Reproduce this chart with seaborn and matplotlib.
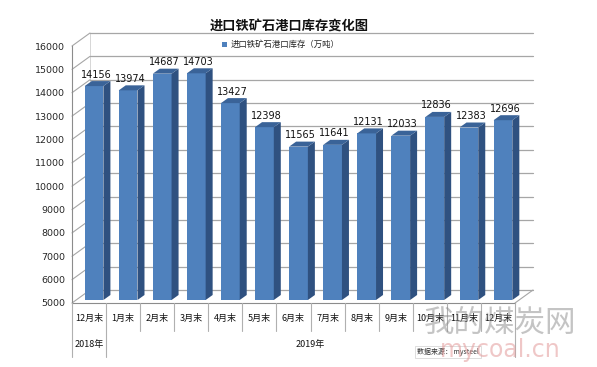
import matplotlib
matplotlib.use('Agg')
import matplotlib.pyplot as plt
import seaborn as sns
import pandas as pd
from matplotlib.patches import Polygon, Rectangle
from matplotlib.lines import Line2D
from matplotlib.transforms import Affine2D, IdentityTransform

# ---------------- data ----------------
keys = ['2018-12', '2019-01', '2019-02', '2019-03', '2019-04', '2019-05', '2019-06',
        '2019-07', '2019-08', '2019-09', '2019-10', '2019-11', '2019-12']
month_labels = ['12月末', '1月末', '2月末', '3月末', '4月末', '5月末', '6月末',
                '7月末', '8月末', '9月末', '10月末', '11月末', '12月末']
values = [14156, 13974, 14687, 14703, 13427, 12398, 11565,
          11641, 12131, 12033, 12836, 12383, 12696]
year_labels = ['2018年', '2019年']
year_spans = [(0, 1), (1, 13)]
y_ticks = list(range(5000, 16001, 1000))
title = '进口铁矿石港口库存变化图'
series_name = '进口铁矿石港口库存（万吨）'

# ---------------- style ----------------
W, H = 597, 367
sns.set_style('white')
plt.rcParams['font.family'] = ['Noto Sans CJK SC', 'DejaVu Sans']
fig = plt.figure(figsize=(W / 100, H / 100), dpi=100)
fig.patch.set_facecolor('white')

X0, X1 = 72, 515      # front plane, pixels from left
YB, YT = 303, 46      # 5000 and 16000, pixels from top
DX, DY = 18, 13       # back-wall offset (pixels)
BDX, BDY = 5, 3       # bar offset into depth
SDX, SDY = 7, 5       # bar depth
BASE = y_ticks[0]

ax = fig.add_axes([X0 / W, 1 - YB / H, (X1 - X0) / W, (YB - YT) / H])
df = pd.DataFrame({'key': keys, 'value': values})
sns.barplot(data=df, x='key', y='value', order=keys, color='#4F81BD',
            saturation=1, width=0.55, ax=ax, zorder=3)
ax.set_xlim(-0.5, len(keys) - 0.5)
ax.set_ylim(BASE, y_ticks[-1])
ax.set_facecolor('none')
for s in ['top', 'right']:
    ax.spines[s].set_visible(False)
ax.spines['left'].set_color('#8C8C8C')
ax.spines['bottom'].set_color('#8C8C8C')
ax.spines['left'].set_linewidth(0.8)
ax.spines['bottom'].set_linewidth(0.8)
ax.set_yticks(y_ticks)
ax.set_yticklabels([str(v) for v in y_ticks], fontsize=6.8, family='DejaVu Sans')
ax.tick_params(axis='y', length=3, color='#8C8C8C', pad=2)
ax.set_xticks([])
ax.set_xlabel('')
ax.set_ylabel('')

ident = IdentityTransform()
py = lambda y: H - y  # top-based pixel to display


def add_line(xs, ys, **kw):
    ln = Line2D(xs, ys, transform=ident, clip_on=False, **kw)
    ax.add_line(ln)
    return ln


# back wall gridlines + left wall diagonals
x0d = ax.transData.transform((-0.5, 0))[0]
x1d = ax.transData.transform((len(keys) - 0.5, 0))[0]
for v in y_ticks:
    yd = ax.transData.transform((0, v))[1]
    add_line([x0d + DX, x1d + DX], [yd + DY, yd + DY], color='#A6A6A6', lw=0.9, zorder=0.5)
    add_line([x0d, x0d + DX], [yd, yd + DY], color='#A6A6A6', lw=0.8, zorder=0.5)
yb = ax.transData.transform((0, BASE))[1]
yt = ax.transData.transform((0, y_ticks[-1]))[1]
add_line([x1d, x1d + DX], [yb, yb + DY], color='#A6A6A6', lw=0.8, zorder=0.5)
add_line([x0d + DX, x0d + DX], [yb + DY, yt + DY], color='#D0D0D0', lw=0.6, zorder=0.4)

# 3D bars
shift = Affine2D().translate(BDX, BDY)
for p, v in zip(list(ax.patches), values):
    p.set_y(BASE)
    p.set_height(p.get_height() - BASE)
    p.set_transform(ax.transData + shift)
    p.set_edgecolor('none')
    p.set_clip_on(False)
    x = p.get_x()
    w = p.get_width()
    (xl, ybot) = ax.transData.transform((x, BASE))
    (xr, ytop) = ax.transData.transform((x + w, v))
    xl += BDX; xr += BDX; ybot += BDY; ytop += BDY
    side = Polygon([(xr, ybot), (xr + SDX, ybot + SDY), (xr + SDX, ytop + SDY), (xr, ytop)],
                   closed=True, facecolor='#2F5180', edgecolor='none', transform=ident,
                   zorder=4, clip_on=False)
    top = Polygon([(xl, ytop), (xr, ytop), (xr + SDX, ytop + SDY), (xl + SDX, ytop + SDY)],
                  closed=True, facecolor='#3A6398', edgecolor='none', transform=ident,
                  zorder=4, clip_on=False)
    ax.add_patch(side)
    ax.add_patch(top)
    fig.text((xl + xr) / 2 + 2, ytop + SDY + 1.5, f'{v}', transform=ident, ha='center',
             va='bottom', fontsize=7, family='DejaVu Sans', color='#111111', zorder=6)

# category table below axis
step = (x1d - x0d) / len(keys)
for i, lab in enumerate(month_labels):
    cx = x0d + (i + 0.5) * step
    fig.text(cx, py(318), lab, transform=ident, ha='center', va='center', fontsize=6.5,
             color='#111111')
for i in range(len(keys) + 1):
    xb = x0d + i * step
    bottom = 357 if i in (0, 1, len(keys)) else 331
    fig.add_artist(Line2D([xb, xb], [py(303), py(bottom)], color='#B0B0B0', lw=0.8,
                          transform=ident))
for lab, (a, b) in zip(year_labels, year_spans):
    cx = x0d + (a + b) / 2 * step
    fig.text(cx, py(345), lab, transform=ident, ha='center', va='center', fontsize=6.5,
             color='#111111')

# title and legend
fig.text(289, py(27), title, transform=ident, ha='center', va='center', fontsize=9.5,
         fontweight='bold', color='#111111')
fig.add_artist(Rectangle((222, py(47)), 5, 5, facecolor='#4F81BD', edgecolor='none',
                         transform=ident))
fig.text(231, py(44.5), series_name, transform=ident, ha='left', va='center', fontsize=6,
         color='#222222')

# source note
fig.text(417, py(352), '数据来源： mysteel', transform=ident, ha='left', va='center',
         fontsize=5, color='#333333',
         bbox=dict(boxstyle='square,pad=0.25', facecolor='white', edgecolor='#D0D0D0', lw=0.5))

# watermark
fig.text(500, py(323), '我的煤炭网', transform=ident, ha='center', va='center', fontsize=22,
         color='#8A8A8A', alpha=0.5, zorder=10)
fig.text(500, py(350), 'mycoal.cn', transform=ident, ha='center', va='center', fontsize=17,
         color='#E39A9A', alpha=0.55, zorder=10, family='DejaVu Sans')

fig.savefig('out.png', dpi=100)
